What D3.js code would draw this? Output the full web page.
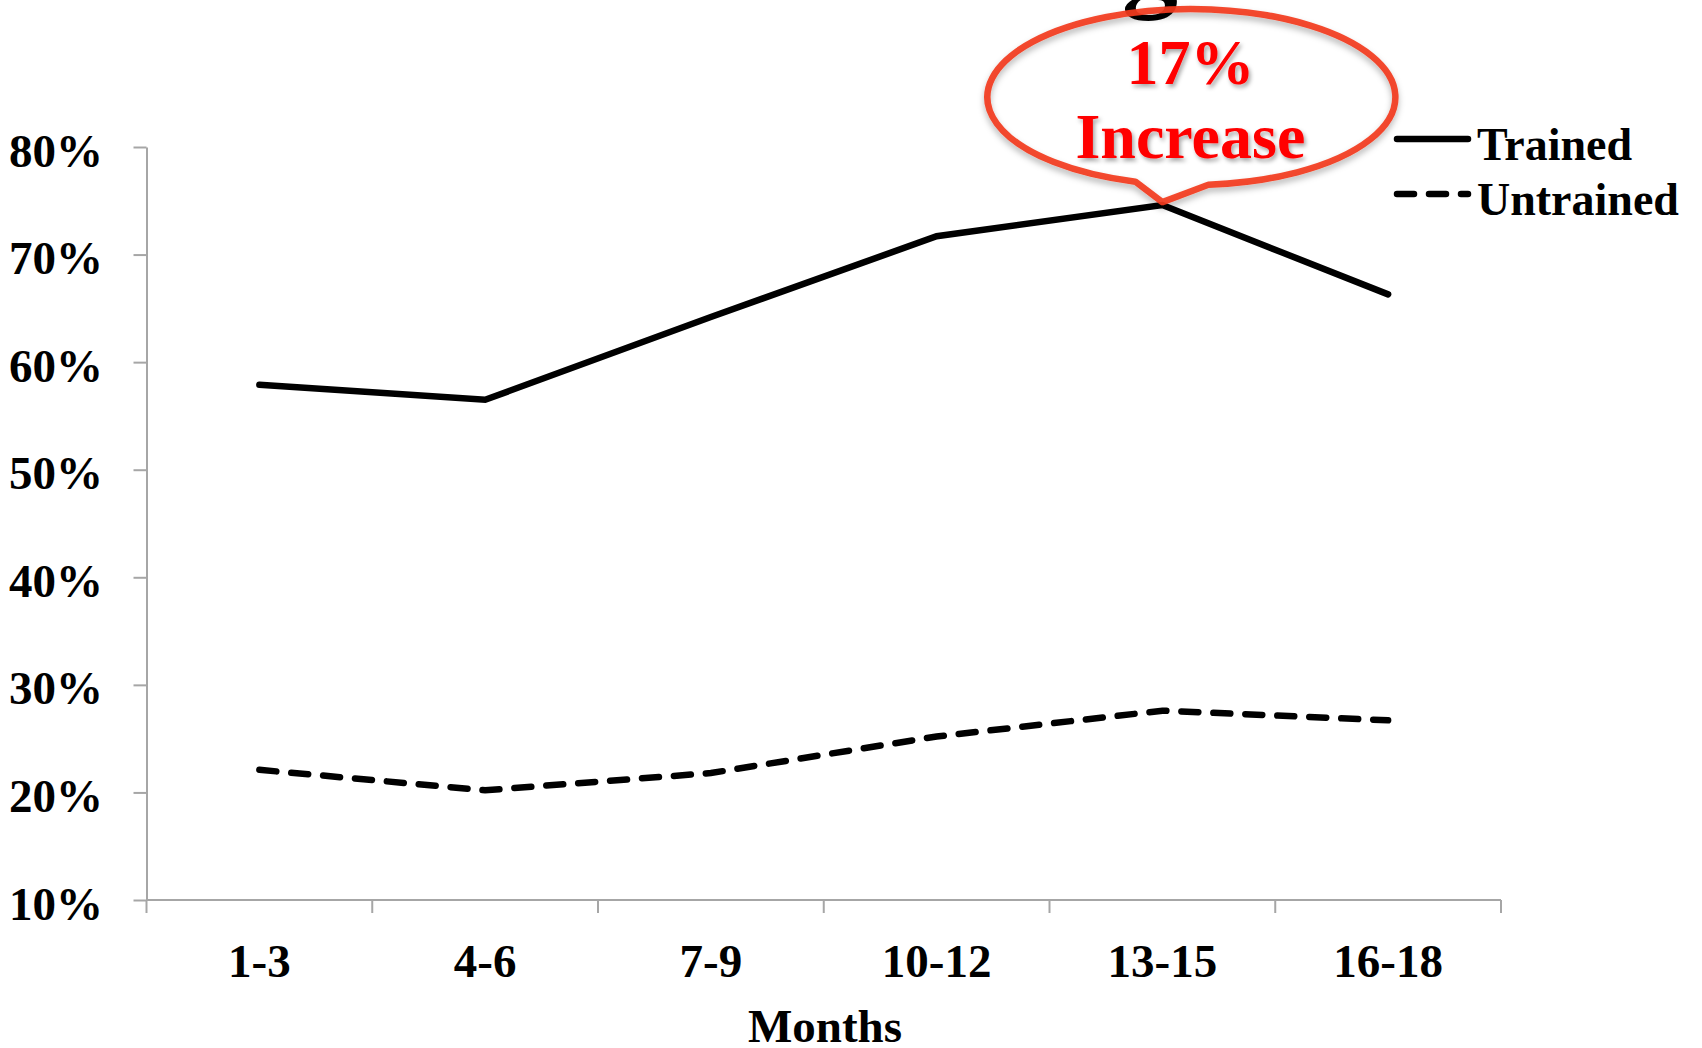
<!DOCTYPE html>
<html>
<head>
<meta charset="utf-8">
<script src="https://cdn.jsdelivr.net/npm/d3@7"></script>
<style>
  html, body { margin: 0; padding: 0; background: #fff; }
  svg { display: block; }
  text { font-family: "Liberation Serif", "Times New Roman", serif; font-weight: bold; }
</style>
</head>
<body>
<svg id="chart" width="1702" height="1048"></svg>
<script>
// Share of patients by follow-up period
const months = ["1-3", "4-6", "7-9", "10-12", "13-15", "16-18"];
const trained = [0.579, 0.565, 0.642, 0.717, 0.746, 0.663];
const untrained = [0.221, 0.202, 0.218, 0.252, 0.276, 0.267];
const yTicks = [0.1, 0.2, 0.3, 0.4, 0.5, 0.6, 0.7, 0.8];
const seriesNames = ["Trained", "Untrained"];
const calloutLines = ["17%", "Increase"];
const calloutAt = "13-15";

const svg = d3.select("#chart");
const plot = { left: 146.5, right: 1501, top: 147, bottom: 900 };

const x = d3.scaleBand().domain(months).range([plot.left, plot.right]);
const y = d3.scaleLinear().domain([0.1, 0.8]).range([plot.bottom, plot.top]);
const cx = d => x(d) + x.bandwidth() / 2;

const defs = svg.append("defs");
defs.append("filter").attr("id", "textShadow")
  .attr("x", "-20%").attr("y", "-20%").attr("width", "140%").attr("height", "140%")
  .append("feDropShadow").attr("dx", 2).attr("dy", 3).attr("stdDeviation", 2)
  .attr("flood-color", "#000").attr("flood-opacity", 0.35);
defs.append("filter").attr("id", "shapeShadow")
  .attr("x", "-20%").attr("y", "-20%").attr("width", "140%").attr("height", "150%")
  .append("feDropShadow").attr("dx", 0).attr("dy", 4).attr("stdDeviation", 3)
  .attr("flood-color", "#000").attr("flood-opacity", 0.3);

const axisColor = "#a6a6a6";

// y axis
const yAxis = svg.append("g")
  .attr("transform", `translate(${plot.left},0)`)
  .call(d3.axisLeft(y).tickValues(yTicks).tickFormat(d3.format(".0%")).tickSize(13).tickSizeOuter(0));
yAxis.select(".domain").attr("stroke", axisColor).attr("stroke-width", 2);
yAxis.selectAll(".tick line").attr("stroke", axisColor).attr("stroke-width", 2);
yAxis.selectAll(".tick text")
  .attr("x", -43.5).attr("dy", null).attr("y", 19)
  .attr("fill", "#000").attr("font-size", 47)
  .attr("font-family", "'Liberation Serif', serif").attr("font-weight", "bold");

// x axis: ticks on category boundaries, labels centred in each band
const xAxis = svg.append("g");
xAxis.append("line")
  .attr("x1", plot.left).attr("x2", plot.right)
  .attr("y1", plot.bottom).attr("y2", plot.bottom)
  .attr("stroke", axisColor).attr("stroke-width", 2);
const bounds = months.map(m => x(m)).concat([x(months[months.length - 1]) + x.bandwidth()]);
xAxis.selectAll("line.tick").data(bounds).join("line").attr("class", "tick")
  .attr("x1", d => d).attr("x2", d => d)
  .attr("y1", plot.bottom).attr("y2", plot.bottom + 13)
  .attr("stroke", axisColor).attr("stroke-width", 2);
xAxis.selectAll("text").data(months).join("text")
  .attr("x", d => cx(d)).attr("y", 977)
  .attr("text-anchor", "middle").attr("font-size", 47).attr("fill", "#000")
  .text(d => d);

svg.append("text")
  .attr("x", 825).attr("y", 1042).attr("text-anchor", "middle")
  .attr("font-size", 47).attr("fill", "#000")
  .text("Months");

// series lines
const line = d3.line().x((d, i) => cx(months[i])).y(d => y(d));
svg.append("path").datum(trained)
  .attr("d", line).attr("fill", "none").attr("stroke", "#000")
  .attr("stroke-width", 6.5).attr("stroke-linecap", "round").attr("stroke-linejoin", "miter");
svg.append("path").datum(untrained)
  .attr("d", line).attr("fill", "none").attr("stroke", "#000")
  .attr("stroke-width", 6.5).attr("stroke-linecap", "round")
  .attr("stroke-dasharray", "17,15");

// legend
const legend = svg.append("g");
seriesNames.forEach((name, i) => {
  const ly = 139 + i * 55;
  legend.append("line")
    .attr("x1", 1397).attr("x2", 1468).attr("y1", ly).attr("y2", ly)
    .attr("stroke", "#000").attr("stroke-width", 6.5).attr("stroke-linecap", "round")
    .attr("stroke-dasharray", i === 1 ? "17,15" : null);
  legend.append("text")
    .attr("x", 1477).attr("y", ly + 21)
    .attr("font-size", 46).attr("fill", "#000")
    .text(name);
});

// descender of the heading sitting above the chart area
svg.append("text")
  .attr("x", 1150).attr("y", -4).attr("text-anchor", "middle")
  .attr("font-size", 112).attr("fill", "#000")
  .text("g");

// speech-bubble callout pointing at the peak of the trained series
const idx = months.indexOf(calloutAt);
const tip = [cx(calloutAt), y(trained[idx]) - 3];
const ec = [tip[0] + 29, tip[1] - 105];
const rx = 204, ry = 88;
const baseL = -56, baseR = 17;
const pt = dx => {
  const t = Math.acos(dx / rx);
  return [ec[0] + dx, ec[1] + ry * Math.sin(t)];
};
const pL = pt(baseL), pR = pt(baseR);
const bubble = `M${pR[0]},${pR[1]} A${rx},${ry} 0 1 0 ${pL[0]},${pL[1]} L${tip[0]},${tip[1]} Z`;
svg.append("path")
  .attr("d", bubble)
  .attr("fill", "none")
  .attr("stroke", "#f23a1c").attr("stroke-width", 6.5).attr("stroke-linejoin", "round")
  .attr("stroke-opacity", 0.92)
  .attr("filter", "url(#shapeShadow)");

const ct = svg.append("g").attr("filter", "url(#textShadow)");
calloutLines.forEach((t, i) => {
  ct.append("text")
    .attr("x", ec[0] - 1).attr("y", ec[1] - 13 + i * 74)
    .attr("text-anchor", "middle").attr("font-size", 64).attr("fill", "#ff0000")
    .text(t);
});
</script>
</body>
</html>
